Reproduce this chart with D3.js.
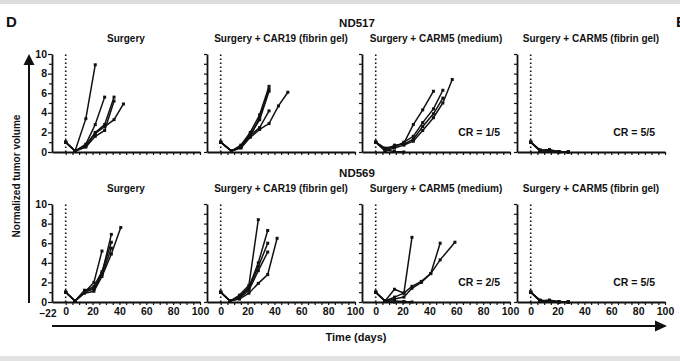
<!DOCTYPE html>
<html>
<head>
<meta charset="utf-8">
<script src="https://cdn.jsdelivr.net/npm/d3@7"></script>
<style>
  html, body { margin: 0; padding: 0; background: #fff; }
  svg { display: block; font-family: 'Liberation Sans', Arial, sans-serif; }
</style>
</head>
<body>
<svg id="chart" width="680" height="361"></svg>
<script>
(function () {
  'use strict';

  // ---- Data (day, normalized volume) ----
  const MODELS = ['ND517', 'ND569'];
  const PANEL_TITLES = [
    'Surgery',
    'Surgery + CAR19 (fibrin gel)',
    'Surgery + CARM5 (medium)',
    'Surgery + CARM5 (fibrin gel)',
  ];
  const CR_LABELS = [
    [null, null, 'CR = 1/5', 'CR = 5/5'],
    [null, null, 'CR = 2/5', 'CR = 5/5'],
  ];
  const X_LABELS = [0, 20, 40, 60, 80, 100];
  const X_START_LABEL = '\u221222';
  const Y_LABELS = [0, 2, 4, 6, 8, 10];

  const nd517Surgery = [
    [[0, 1], [7, 0.1], [15, 3.4], [22, 8.9]],
    [[0, 1], [7, 0.1], [15, 0.8], [22, 2.8], [29, 5.6]],
    [[0, 1], [7, 0.1], [15, 0.7], [22, 2.0], [29, 2.8], [36, 5.6]],
    [[0, 1], [7, 0.1], [15, 0.6], [22, 1.9], [29, 2.6], [36, 3.3], [43, 4.9]],
    [[0, 1], [7, 0.1], [15, 0.5], [22, 1.6], [29, 2.2], [36, 5.2]],
  ];
  const nd517Car19Gel = [
    [[0, 1], [8, 0.1], [15, 0.7], [22, 2.0], [29, 3.8], [36, 6.7]],
    [[0, 1], [8, 0.1], [15, 0.6], [22, 1.8], [29, 3.3], [36, 6.2]],
    [[0, 1], [8, 0.1], [15, 0.5], [22, 1.7], [29, 2.5], [36, 4.2]],
    [[0, 1], [8, 0.1], [15, 0.4], [22, 1.5], [29, 2.3], [36, 2.9], [43, 4.7], [50, 6.1]],
    [[0, 1], [8, 0.1], [15, 0.5], [22, 1.6], [29, 3.5], [36, 6.4]],
  ];
  const nd517Carm5Medium = [
    [[0, 1], [7, 0.4], [14, 0.6], [21, 0.9], [28, 2.8], [35, 4.3], [43, 6.2]],
    [[0, 1], [7, 0.3], [14, 0.5], [21, 1.0], [28, 1.6], [35, 3.0], [43, 4.4], [50, 6.3]],
    [[0, 1], [7, 0.2], [14, 0.7], [21, 0.8], [28, 1.3], [35, 2.6], [43, 3.9], [50, 5.5]],
    [[0, 1], [7, 0.1], [14, 0.4], [21, 0.7], [28, 1.1], [35, 2.2], [43, 3.5], [50, 5.0], [57, 7.4]],
    [[0, 1], [7, 0.2], [14, 0.05], [21, 0]],
  ];
  const nd517Carm5Gel = [
    [[0, 1], [7, 0.2], [14, 0.15], [21, 0.05], [28, 0]],
    [[0, 1], [7, 0.15], [14, 0.25], [21, 0], [28, 0]],
    [[0, 1], [7, 0.1], [14, 0.1], [21, 0.05], [28, 0]],
    [[0, 1], [7, 0.2], [14, 0.05], [21, 0], [28, 0]],
    [[0, 1], [7, 0.1], [14, 0.2], [21, 0], [28, 0]],
  ];

  const nd569Surgery = [
    [[0, 1], [7, 0.1], [14, 1.0], [21, 2.0], [27, 5.2]],
    [[0, 1], [7, 0.1], [14, 1.2], [21, 1.3], [27, 2.9], [34, 6.9]],
    [[0, 1], [7, 0.1], [14, 1.1], [21, 1.6], [27, 3.1], [34, 6.1]],
    [[0, 1], [7, 0.1], [14, 0.9], [21, 1.1], [27, 2.6], [34, 4.9], [41, 7.6]],
    [[0, 1], [7, 0.1], [14, 1.0], [21, 1.4], [27, 2.8], [34, 5.5]],
  ];
  const nd569Car19Gel = [
    [[0, 1], [7, 0.1], [14, 0.7], [21, 1.7], [28, 8.4]],
    [[0, 1], [7, 0.1], [14, 0.5], [21, 1.5], [28, 4.0], [35, 7.3]],
    [[0, 1], [7, 0.1], [14, 0.4], [21, 1.2], [28, 3.2], [35, 5.1]],
    [[0, 1], [7, 0.1], [14, 0.3], [21, 0.9], [28, 1.9], [35, 2.8], [42, 6.5]],
    [[0, 1], [7, 0.1], [14, 0.5], [21, 1.4], [28, 3.6], [35, 6.0]],
  ];
  const nd569Carm5Medium = [
    [[0, 1], [7, 0.1], [14, 1.3], [21, 0.9], [27, 6.6]],
    [[0, 1], [7, 0.1], [14, 0.5], [21, 0.9], [27, 1.6], [34, 2.1], [41, 2.9], [48, 6.0]],
    [[0, 1], [7, 0.1], [14, 0.3], [21, 0.5], [27, 1.4], [34, 2.0], [41, 2.9], [48, 4.3], [59, 6.1]],
    [[0, 1], [7, 0.1], [14, 0.1], [21, 0.05], [27, 0]],
    [[0, 1], [7, 0.05], [14, 0], [21, 0]],
  ];
  const nd569Carm5Gel = [
    [[0, 1], [7, 0.1], [14, 0.2], [21, 0], [28, 0]],
    [[0, 1], [7, 0.15], [14, 0.1], [21, 0.05], [28, 0]],
    [[0, 1], [7, 0.1], [14, 0.15], [21, 0], [28, 0]],
    [[0, 1], [7, 0.2], [14, 0.05], [21, 0], [28, 0]],
    [[0, 1], [7, 0.1], [14, 0.1], [21, 0], [28, 0]],
  ];

  const PANELS = [
    [nd517Surgery, nd517Car19Gel, nd517Carm5Medium, nd517Carm5Gel],
    [nd569Surgery, nd569Car19Gel, nd569Carm5Medium, nd569Carm5Gel],
  ];

  // ---- Layout ----
  const INK = '#111';
  const COL_X = [52, 207, 362, 517];
  const ROW_Y = [54, 204];
  const PW = 148;
  const PH = 98;
  const X_DOMAIN = [-10.2, 100];

  const svg = d3.select('#chart');

  // frame bands
  svg.append('rect').attr('x', 0).attr('y', 0).attr('width', 680).attr('height', 4).attr('fill', '#dcdcdc');
  svg.append('rect').attr('x', 0).attr('y', 356).attr('width', 680).attr('height', 5).attr('fill', '#e2e2e2');

  svg.append('text').attr('x', 6).attr('y', 27).attr('font-size', 15).attr('font-weight', 'bold')
    .attr('fill', INK).text('D');
  // neighbouring panel letter, cut by the right edge as in the source figure
  svg.append('text').attr('x', 676).attr('y', 27).attr('font-size', 15).attr('font-weight', 'bold')
    .attr('fill', INK).text('E');

  MODELS.forEach(function (name, r) {
    svg.append('text')
      .attr('x', 357)
      .attr('y', ROW_Y[r] - 27)
      .attr('text-anchor', 'middle')
      .attr('font-size', 11.5)
      .attr('font-weight', 'bold')
      .attr('fill', INK)
      .text(name);
  });

  // ---- Panels ----
  PANELS.forEach(function (row, r) {
    row.forEach(function (series, c) {
      const x0 = COL_X[c];
      const y0 = ROW_Y[r];
      const x = d3.scaleLinear().domain(X_DOMAIN).range([x0, x0 + PW]);
      const y = d3.scaleLinear().domain([0, 10]).range([y0 + PH, y0]);
      const g = svg.append('g');

      g.append('text')
        .attr('x', x0 + PW / 2)
        .attr('y', y0 - 12)
        .attr('text-anchor', 'middle')
        .attr('font-size', 10)
        .attr('font-weight', 'bold')
        .attr('fill', INK)
        .text(PANEL_TITLES[c]);

      // dotted line at day 0
      g.append('line')
        .attr('x1', x(0)).attr('x2', x(0))
        .attr('y1', y(0)).attr('y2', y(10))
        .attr('stroke', INK)
        .attr('stroke-width', 1.6)
        .attr('stroke-dasharray', '1.4,2.6');

      // x axis
      const xTicks = d3.range(0, 101, 5);
      const xAxis = d3.axisBottom(x)
        .tickValues(xTicks)
        .tickSize(3)
        .tickSizeOuter(0)
        .tickFormat(function (d) {
          return r === 1 && X_LABELS.indexOf(d) >= 0 ? d : '';
        });
      const xa = g.append('g').attr('transform', 'translate(0,' + y(0) + ')').call(xAxis);

      if (r === 1 && c === 0) {
        xa.append('text')
          .attr('x', x0 - 4)
          .attr('y', 14.5)
          .attr('text-anchor', 'middle')
          .attr('font-size', 10)
          .attr('font-weight', 'bold')
          .attr('fill', INK)
          .text(X_START_LABEL);
      }

      // y axis
      const yAxis = d3.axisLeft(y)
        .tickValues(d3.range(0, 11, 1))
        .tickSize(3)
        .tickSizeOuter(0)
        .tickFormat(function (d) {
          return c === 0 && Y_LABELS.indexOf(d) >= 0 ? d : '';
        });
      const ya = g.append('g').attr('transform', 'translate(' + x0 + ',0)').call(yAxis);

      [xa, ya].forEach(function (a) {
        a.select('.domain').attr('stroke', INK).attr('stroke-width', 1.8);
        a.selectAll('.tick line').attr('stroke', INK).attr('stroke-width', 1.2);
        a.selectAll('.tick text')
          .attr('font-size', 10.5)
          .attr('font-weight', 'bold')
          .attr('fill', INK)
          .attr('font-family', "'Liberation Sans', Arial, sans-serif");
      });
      xa.selectAll('.tick text').attr('dy', '0.95em').attr('y', 3);
      ya.selectAll('.tick line').attr('x2', function (d) {
        return c === 0 && Y_LABELS.indexOf(d) >= 0 ? -4 : -3;
      });
      ya.selectAll('.tick text').attr('x', -5).attr('dy', '0.3em');

      // series
      const line = d3.line()
        .x(function (d) { return x(d[0]); })
        .y(function (d) { return y(d[1]); });

      series.forEach(function (s) {
        g.append('path')
          .datum(s)
          .attr('d', line)
          .attr('fill', 'none')
          .attr('stroke', INK)
          .attr('stroke-width', 1.5);
        g.selectAll(null)
          .data(s)
          .enter()
          .append('rect')
          .attr('x', function (d) { return x(d[0]) - 1.5; })
          .attr('y', function (d) { return y(d[1]) - 1.5; })
          .attr('width', 3)
          .attr('height', 3)
          .attr('fill', INK);
      });

      if (CR_LABELS[r][c]) {
        g.append('text')
          .attr('x', x0 + PW - 10)
          .attr('y', y(2) + 4)
          .attr('text-anchor', 'end')
          .attr('font-size', 10.5)
          .attr('font-weight', 'bold')
          .attr('fill', INK)
          .text(CR_LABELS[r][c]);
      }
    });
  });

  // ---- Big axis arrows & titles ----
  svg.append('line')
    .attr('x1', 29).attr('x2', 29)
    .attr('y1', 303).attr('y2', 64)
    .attr('stroke', INK).attr('stroke-width', 2);
  svg.append('path')
    .attr('d', 'M29,54 L23.5,65 L34.5,65 Z')
    .attr('fill', INK);

  svg.append('line')
    .attr('x1', 52).attr('x2', 656)
    .attr('y1', 326).attr('y2', 326)
    .attr('stroke', INK).attr('stroke-width', 2);
  svg.append('path')
    .attr('d', 'M667,326 L655,320.5 L655,331.5 Z')
    .attr('fill', INK);

  svg.append('text')
    .attr('transform', 'translate(20,176) rotate(-90)')
    .attr('text-anchor', 'middle')
    .attr('font-size', 10)
    .attr('font-weight', 'bold')
    .attr('fill', INK)
    .text('Normalized tumor volume');

  svg.append('text')
    .attr('x', 356)
    .attr('y', 341)
    .attr('text-anchor', 'middle')
    .attr('font-size', 11)
    .attr('font-weight', 'bold')
    .attr('fill', INK)
    .text('Time (days)');
})();
</script>
</body>
</html>
